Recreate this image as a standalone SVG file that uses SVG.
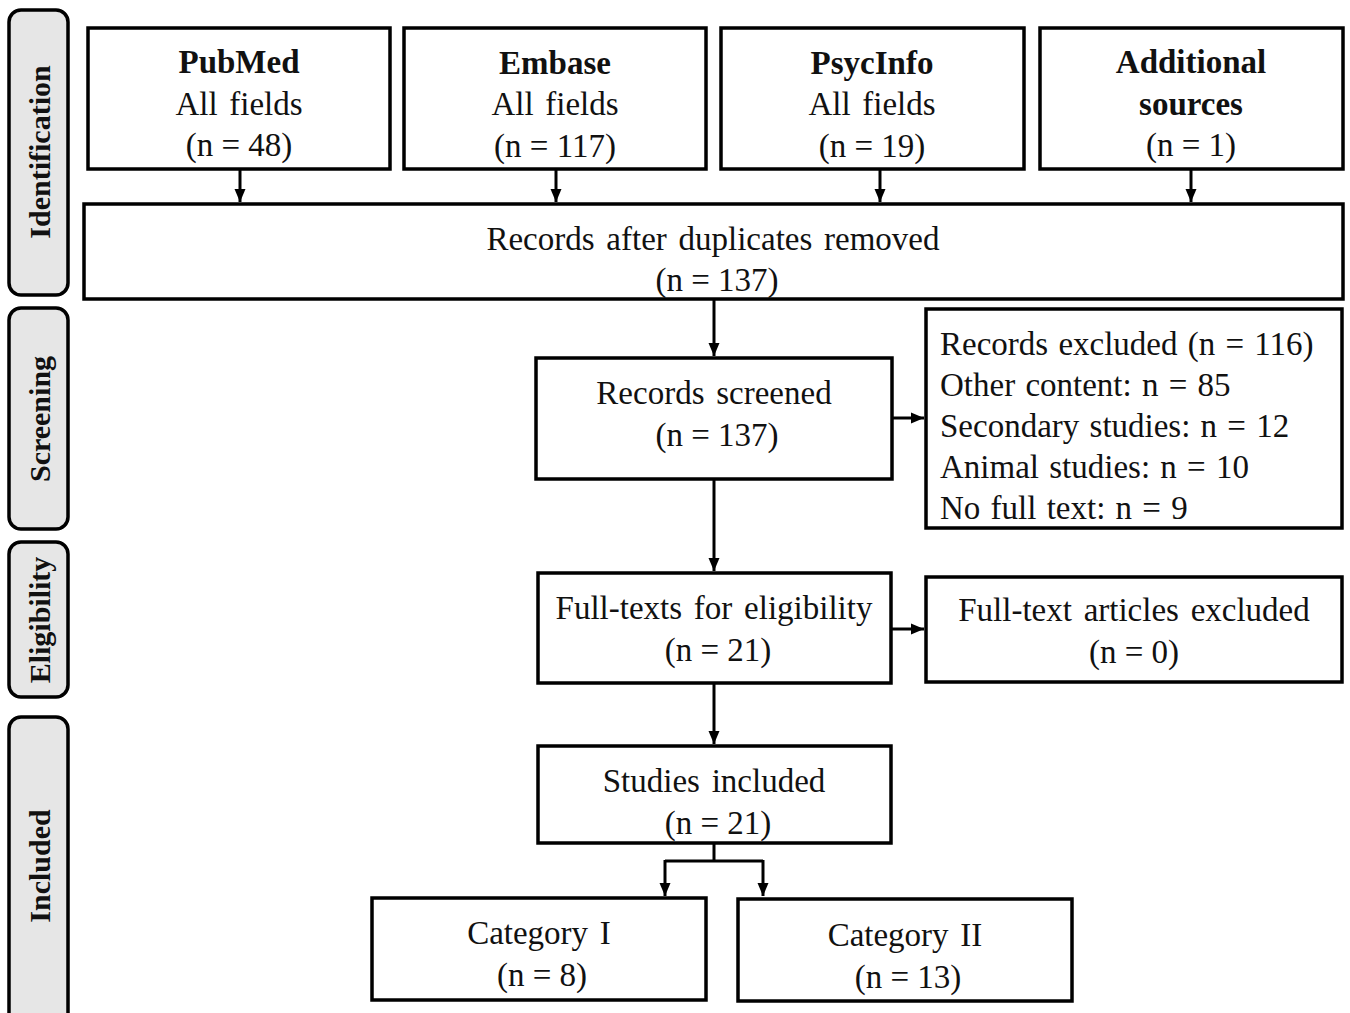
<svg xmlns="http://www.w3.org/2000/svg" width="1350" height="1013" viewBox="0 0 1350 1013">
<defs>
<marker id="ah" markerUnits="userSpaceOnUse" markerWidth="13" markerHeight="13" viewBox="0 0 13 13" refX="13" refY="6.5" orient="auto">
<path d="M0,1 L13,6.5 L0,12 Z" fill="#000"/>
</marker>
<style>
.box{fill:#fff;stroke:#000;stroke-width:3.5}
.side{fill:#e6e6e6;stroke:#000;stroke-width:3.5}
.t{font-family:"Liberation Serif","Times New Roman",serif;font-size:33px;fill:#111;text-anchor:middle;word-spacing:3.5px}
.n{word-spacing:0}
.x{word-spacing:2px}
.b{font-weight:bold}
.l{text-anchor:start}
.s{font-family:"Liberation Serif","Times New Roman",serif;font-size:30px;font-weight:bold;fill:#111;text-anchor:middle}
.c{fill:none;stroke:#000;stroke-width:3}
</style>
</defs>
<rect width="1350" height="1013" fill="#fff"/>

<g id="phase-identification"><rect class="side" x="9" y="10" width="59" height="285" rx="12"/><text class="s" transform="translate(50,152) rotate(-90)">Identification</text></g>
<g id="phase-screening"><rect class="side" x="9" y="308" width="59" height="221" rx="12"/><text class="s" transform="translate(50,419) rotate(-90)">Screening</text></g>
<g id="phase-eligibility"><rect class="side" x="9" y="542" width="59" height="155" rx="12"/><text class="s" transform="translate(50,620) rotate(-90)">Eligibility</text></g>
<g id="phase-included"><rect class="side" x="9" y="717" width="59" height="310" rx="12"/><text class="s" transform="translate(50,866) rotate(-90)">Included</text></g>

<g id="connectors">
<line class="c" x1="240" y1="170" x2="240" y2="202" marker-end="url(#ah)"/>
<line class="c" x1="556" y1="170" x2="556" y2="202" marker-end="url(#ah)"/>
<line class="c" x1="880" y1="170" x2="880" y2="202" marker-end="url(#ah)"/>
<line class="c" x1="1191" y1="170" x2="1191" y2="202" marker-end="url(#ah)"/>
<line class="c" x1="714" y1="300" x2="714" y2="356" marker-end="url(#ah)"/>
<line class="c" x1="893" y1="418" x2="924" y2="418" marker-end="url(#ah)"/>
<line class="c" x1="714" y1="480" x2="714" y2="571" marker-end="url(#ah)"/>
<line class="c" x1="892" y1="629" x2="924" y2="629" marker-end="url(#ah)"/>
<line class="c" x1="714" y1="684" x2="714" y2="744" marker-end="url(#ah)"/>
<path class="c" d="M714,844 V861 M665,861 H763"/>
<line class="c" x1="665" y1="860" x2="665" y2="896" marker-end="url(#ah)"/>
<line class="c" x1="763" y1="860" x2="763" y2="896" marker-end="url(#ah)"/>
</g>

<g id="pubmed"><rect class="box" x="88" y="28" width="302" height="141"/>
<text class="t b" x="239" y="73">PubMed</text><text class="t" x="239" y="115">All fields</text><text class="t n" x="239" y="156">(n = 48)</text></g>
<g id="embase"><rect class="box" x="404" y="28" width="302" height="141"/>
<text class="t b" x="555" y="74">Embase</text><text class="t" x="555" y="115">All fields</text><text class="t n" x="555" y="157">(n = 117)</text></g>
<g id="psycinfo"><rect class="box" x="721" y="28" width="303" height="141"/>
<text class="t b" x="872" y="74">PsycInfo</text><text class="t" x="872" y="115">All fields</text><text class="t n" x="872" y="157">(n = 19)</text></g>
<g id="additional"><rect class="box" x="1040" y="28" width="303" height="141"/>
<text class="t b" x="1191" y="73">Additional</text><text class="t b" x="1191" y="115">sources</text><text class="t n" x="1191" y="156">(n = 1)</text></g>

<g id="dedup"><rect class="box" x="84" y="204" width="1259" height="95"/>
<text class="t" x="713" y="250">Records after duplicates removed</text><text class="t n" x="717" y="291">(n = 137)</text></g>

<g id="screened"><rect class="box" x="536" y="358" width="356" height="121"/>
<text class="t" x="714" y="404">Records screened</text><text class="t n" x="717" y="446">(n = 137)</text></g>

<g id="excluded"><rect class="box" x="926" y="309" width="416" height="219"/>
<text class="t l x" x="940" y="355">Records excluded (n = 116)</text>
<text class="t l x" x="940" y="396">Other content: n = 85</text>
<text class="t l x" x="940" y="437">Secondary studies: n = 12</text>
<text class="t l x" x="940" y="478">Animal studies: n = 10</text>
<text class="t l x" x="940" y="519">No full text: n = 9</text></g>

<g id="fulltexts"><rect class="box" x="538" y="573" width="353" height="110"/>
<text class="t" x="714" y="619">Full-texts for eligibility</text><text class="t n" x="718" y="661">(n = 21)</text></g>

<g id="ft-excluded"><rect class="box" x="926" y="577" width="416" height="105"/>
<text class="t" x="1134" y="621">Full-text articles excluded</text><text class="t n" x="1134" y="663">(n = 0)</text></g>

<g id="included"><rect class="box" x="538" y="746" width="353" height="97"/>
<text class="t" x="714" y="792">Studies included</text><text class="t n" x="718" y="834">(n = 21)</text></g>

<g id="cat1"><rect class="box" x="372" y="898" width="334" height="102"/>
<text class="t" x="539" y="944">Category I</text><text class="t n" x="542" y="986">(n = 8)</text></g>
<g id="cat2"><rect class="box" x="738" y="899" width="334" height="102"/>
<text class="t" x="905" y="946">Category II</text><text class="t n" x="908" y="988">(n = 13)</text></g>
</svg>
